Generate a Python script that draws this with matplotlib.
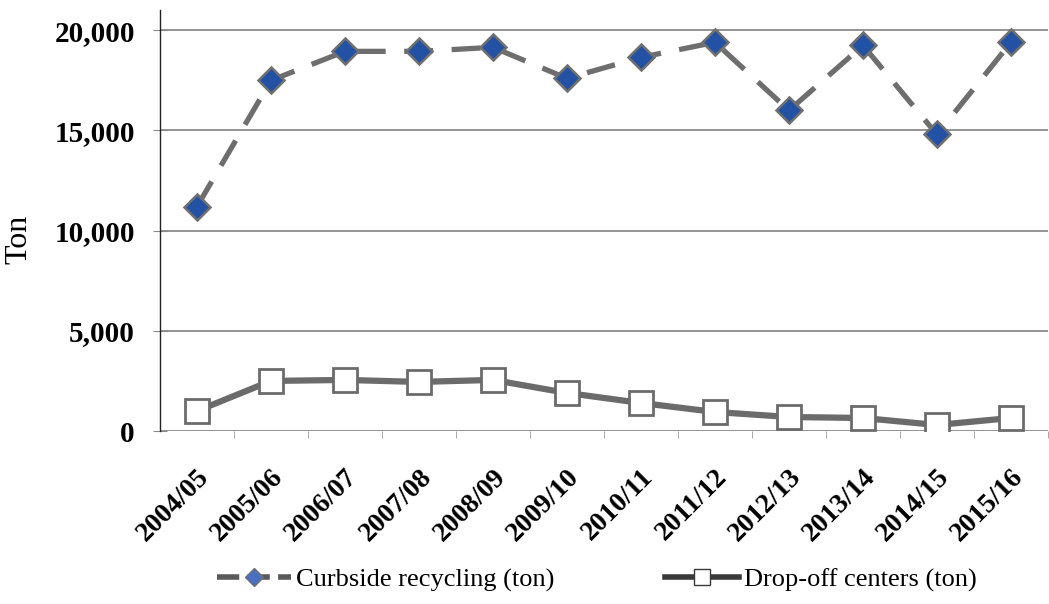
import matplotlib.pyplot as plt
from matplotlib.ticker import FuncFormatter, MultipleLocator
from matplotlib.lines import Line2D

# recycled tonnage per fiscal year
years = ["2004/05", "2005/06", "2006/07", "2007/08", "2008/09", "2009/10",
         "2010/11", "2011/12", "2012/13", "2013/14", "2014/15", "2015/16"]
curbside = [11200, 17500, 18950, 18950, 19150, 17600,
            18650, 19400, 16000, 19250, 14800, 19400]
dropoff = [1000, 2500, 2550, 2450, 2550, 1900,
           1400, 950, 700, 650, 300, 650]

plt.rcParams['font.family'] = ['Liberation Serif', 'DejaVu Serif']

fig = plt.figure(figsize=(10.49, 6.04), dpi=100)
ax = fig.add_axes([0.1525, 0.2864, 0.8465, 0.6966])

x = list(range(len(years)))

ax.plot(x, curbside, color='#6e6e6e', lw=3.8, ls=(0, (5.5, 3.5)),
        marker='D', markersize=13, markerfacecolor='#2352a5',
        markeredgecolor='#707070', markeredgewidth=1.8, zorder=3)
ax.plot(x, dropoff, color='#6b6b6b', lw=4.5,
        marker='s', markersize=17, markerfacecolor='white',
        markeredgecolor='#6b6b6b', markeredgewidth=2, zorder=3)

ax.set_xlim(-0.5, len(years) - 0.5)
ax.set_ylim(0, 21000)

# horizontal grid every 5,000 tons
ax.yaxis.set_major_locator(MultipleLocator(5000))
ax.yaxis.set_major_formatter(FuncFormatter(lambda v, p: f"{int(v):,}"))
ax.grid(axis='y', color='#8a8a8a', lw=1.3)
ax.set_axisbelow(True)

ax.set_xticks(x)
ax.set_xticklabels(years, rotation=45, ha='right', va='top',
                   rotation_mode='anchor', fontsize=20, fontweight='bold')
ax.set_xticks([i - 0.5 for i in x[1:]] + [len(years) - 0.5], minor=True)
ax.tick_params(axis='x', which='major', length=0, pad=24)
ax.tick_params(axis='x', which='minor', length=5, color='#999999', direction='out')
ax.tick_params(axis='y', length=10, direction='inout', color='#888888',
               labelsize=21, pad=13)
for lab in ax.get_yticklabels():
    lab.set_fontweight('bold')

for side in ('top', 'right', 'bottom'):
    ax.spines[side].set_visible(False)
ax.spines['left'].set_color('#222222')
ax.spines['left'].set_linewidth(1.0)

ax.set_ylabel("Ton", fontsize=23)
ax.yaxis.set_label_coords(-0.142, 0.455)

handles = [
    Line2D([], [], color='#5a5a5a', lw=4, ls=(0, (4, 1.5)),
           marker='D', markersize=9, markerfacecolor='#4a6fc0',
           markeredgecolor='#707070'),
    Line2D([], [], color='#3a3a3a', lw=4,
           marker='s', markersize=12, markerfacecolor='white',
           markeredgecolor='#3a3a3a'),
]
fig.legend(handles, ["Curbside recycling (ton)", "Drop-off centers (ton)"],
           loc='center', bbox_to_anchor=(0.569, 0.04), ncol=2, frameon=False,
           fontsize=19, handlelength=2.8, handletextpad=0.2, columnspacing=4.2)

fig.savefig("out.png", dpi=100)
